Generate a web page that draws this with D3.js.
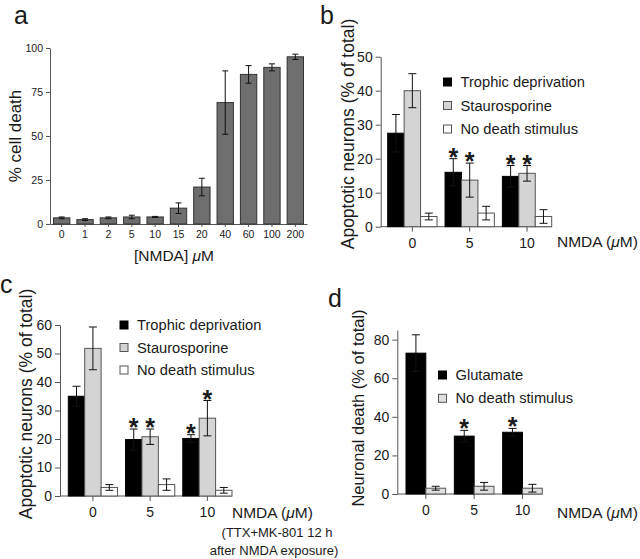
<!DOCTYPE html>
<html><head><meta charset="utf-8">
<script src="https://cdn.jsdelivr.net/npm/d3@7"></script>
<style>
html,body{margin:0;padding:0;background:#fff;}
svg{display:block;}
text{font-family:"Liberation Sans",Arial,Helvetica,sans-serif;fill:#1a1a1a;}
</style></head>
<body>
<svg id="chart" width="640" height="559"></svg>
<script>
// ---------- data ----------
const aCategories = ["0","1","2","5","10","15","20","40","60","100","200"];
const aValues = [3.5,2.5,3.5,4,4,9,21,69,85,89,95];
const aErrors = [0.5,0.5,0.5,1,0.3,3,5,18,5,2,1.5];
const aYTicks = [0,25,50,75,100];

const groups = ["0","5","10"];

const bTrophic = [27.5,16,14.8];
const bTrophicErr = [5.5,4,3.2];
const bStauro = [40,13.7,15.7];
const bStauroErr = [5,5,2.3];
const bNone = [3,4,3];
const bNoneErr = [1,2,2];
const bTrophicStar = [false,true,true];
const bStauroStar = [false,true,true];
const bYTicks = [0,10,20,30,40,50];

const cTrophic = [35,19.8,20.2];
const cTrophicErr = [3.5,3.7,1.3];
const cStauro = [51.8,20.8,27.3];
const cStauroErr = [7.5,2.7,6.2];
const cNone = [3,4,2];
const cNoneErr = [1,2,1];
const cTrophicStar = [false,true,true];
const cStauroStar = [false,true,true];
const cYTicks = [0,10,20,30,40,50,60];

const dGlutamate = [73,30,32];
const dGlutamateErr = [9.5,3,2];
const dNone = [3,4,3];
const dNoneErr = [1,2,2];
const dGlutamateStar = [false,true,true];
const dYTicks = [0,20,40,60,80];

const seriesNames3 = ["Trophic deprivation","Staurosporine","No death stimulus"];
const seriesNames2 = ["Glutamate","No death stimulus"];

// ---------- drawing ----------
const svg = d3.select("#chart");
const AX = "#555";

function styleAxis(g, fs){
  g.selectAll("line").attr("stroke",AX).attr("stroke-width",1);
  g.selectAll("path.domain").attr("stroke",AX).attr("stroke-width",1);
  g.selectAll("text").attr("font-size",fs).attr("fill","#1a1a1a")
    .style("font-family",'"Liberation Sans",Arial,sans-serif');
}

function errBar(g, cx, y, v, e, capW){
  g.append("line").attr("x1",cx).attr("x2",cx).attr("y1",y(v-e)).attr("y2",y(v+e))
    .attr("stroke","#111").attr("stroke-width",1);
  [v-e, v+e].forEach(t=>{
    g.append("line").attr("x1",cx-capW/2).attr("x2",cx+capW/2).attr("y1",y(t)).attr("y2",y(t))
      .attr("stroke","#111").attr("stroke-width",1);
  });
}

function star(g, cx, yTop){
  g.append("text").attr("x",cx).attr("y",yTop+7).attr("text-anchor","middle")
    .attr("font-size",25).attr("font-weight","bold").text("*");
}

// ----- panel a -----
(function(){
  const g = svg.append("g");
  const x = d3.scaleBand().domain(aCategories).range([50,307]).paddingInner(0.3).paddingOuter(0.15);
  const y = d3.scaleLinear().domain([0,100]).range([224,48]);
  const ya = g.append("g").attr("transform","translate(50,0)")
    .call(d3.axisLeft(y).tickValues(aYTicks).tickSize(4).tickSizeOuter(0).tickPadding(3));
  styleAxis(ya,10.5);
  const xa = g.append("g").attr("transform","translate(0,224)")
    .call(d3.axisBottom(x).tickSize(3).tickSizeOuter(0).tickPadding(4));
  styleAxis(xa,10.5);
  aCategories.forEach((c,i)=>{
    g.append("rect").attr("x",x(c)).attr("width",x.bandwidth())
      .attr("y",y(aValues[i])).attr("height",y(0)-y(aValues[i]))
      .attr("fill","#6e6e6e").attr("stroke","#333").attr("stroke-width",1);
    errBar(g, x(c)+x.bandwidth()/2, y, aValues[i], aErrors[i], 6);
  });
  g.append("text").attr("x",174).attr("y",261).attr("text-anchor","middle").attr("font-size",15.5)
    .html('[NMDA] <tspan font-style="italic">μ</tspan>M');
  g.append("text").attr("transform","translate(21,136) rotate(-90)").attr("text-anchor","middle")
    .attr("font-size",17).text("% cell death");
  g.append("text").attr("x",14).attr("y",24).attr("font-size",25).text("a");
})();

// ----- grouped panels -----
function groupedPanel(cfg){
  const g = svg.append("g");
  const x = d3.scaleBand().domain(groups).range(cfg.xr).paddingInner(cfg.pi).paddingOuter(0);
  const nS = cfg.series.length;
  const sub = d3.scaleBand().domain(d3.range(nS)).range([0,x.bandwidth()]).padding(0);
  const y = d3.scaleLinear().domain(cfg.yd).range(cfg.yr);
  const ya = g.append("g").attr("transform",`translate(${cfg.yx},0)`)
    .call(d3.axisLeft(y).tickValues(cfg.yTicks).tickSize(5).tickSizeOuter(0).tickPadding(3));
  styleAxis(ya,14);
  const xa = g.append("g").attr("transform",`translate(0,${cfg.yr[0]})`)
    .call(d3.axisBottom(x).tickSize(5).tickSizeOuter(0).tickPadding(6));
  xa.select("path.domain").remove();
  styleAxis(xa,14);
  g.append("line").attr("x1",cfg.yx).attr("x2",cfg.xr[1]).attr("y1",cfg.yr[0]).attr("y2",cfg.yr[0])
    .attr("stroke",AX).attr("stroke-width",1);
  cfg.series.forEach((s,si)=>{
    groups.forEach((gr,gi)=>{
      const bx = x(gr)+sub(si);
      g.append("rect").attr("x",bx).attr("width",sub.bandwidth())
        .attr("y",y(s.v[gi])).attr("height",y(0)-y(s.v[gi]))
        .attr("fill",s.fill).attr("stroke",s.stroke).attr("stroke-width",1);
    });
  });
  cfg.series.forEach((s,si)=>{
    groups.forEach((gr,gi)=>{
      const cx = x(gr)+sub(si)+sub.bandwidth()/2;
      errBar(g, cx, y, s.v[gi], s.e[gi], 8);
      if(s.star && s.star[gi]) star(g, cx, y(s.v[gi]+s.e[gi]));
    });
  });
  // legend
  cfg.series.forEach((s,si)=>{
    const cy = cfg.leg.y + si*cfg.leg.dy;
    g.append("rect").attr("x",cfg.leg.x).attr("y",cy-4).attr("width",8).attr("height",8)
      .attr("fill",s.fill).attr("stroke",s.legStroke||s.stroke).attr("stroke-width",1);
    g.append("text").attr("x",cfg.leg.x+17).attr("y",cy+5).attr("font-size",14.7).text(s.name);
  });
  g.append("text").attr("x",cfg.nmda[0]).attr("y",cfg.nmda[1]).attr("font-size",15.5)
    .html('NMDA (<tspan font-style="italic">μ</tspan>M)');
  g.append("text").attr("transform",`translate(${cfg.ylab[0]},${cfg.ylab[1]}) rotate(-90)`)
    .attr("text-anchor","middle").attr("font-size",cfg.ylabSize).text(cfg.ylabText);
  g.append("text").attr("x",cfg.letter[0]).attr("y",cfg.letter[1]).attr("font-size",25).text(cfg.letterText);
  return g;
}

groupedPanel({
  xr:[387.7,551.7], pi:0.14, yd:[0,50], yr:[226.7,56.7], yx:380.7, yTicks:bYTicks,
  series:[
    {name:seriesNames3[0], v:bTrophic, e:bTrophicErr, fill:"#000", stroke:"#000", star:bTrophicStar},
    {name:seriesNames3[1], v:bStauro, e:bStauroErr, fill:"#d4d4d4", stroke:"#555", star:bStauroStar},
    {name:seriesNames3[2], v:bNone, e:bNoneErr, fill:"#fff", stroke:"#555"}
  ],
  leg:{x:443.5, y:82, dy:23.5},
  nmda:[557,247], ylab:[354,134], ylabSize:17.5, ylabText:"Apoptotic neurons (% of total)",
  letter:[320,24], letterText:"b"
});

const gc = groupedPanel({
  xr:[68.3,232], pi:0.14, yd:[0,60], yr:[496,325], yx:60, yTicks:cYTicks,
  series:[
    {name:seriesNames3[0], v:cTrophic, e:cTrophicErr, fill:"#000", stroke:"#000", star:cTrophicStar},
    {name:seriesNames3[1], v:cStauro, e:cStauroErr, fill:"#d4d4d4", stroke:"#555", star:cStauroStar},
    {name:seriesNames3[2], v:cNone, e:cNoneErr, fill:"#fff", stroke:"#555"}
  ],
  leg:{x:120, y:325, dy:22.5},
  nmda:[232,518], ylab:[32,404], ylabSize:17.5, ylabText:"Apoptotic neurons (% of total)",
  letter:[0,293], letterText:"c"
});
gc.append("text").attr("x",277).attr("y",537).attr("text-anchor","middle").attr("font-size",13)
  .text("(TTX+MK-801 12 h");
gc.append("text").attr("x",274).attr("y",555).attr("text-anchor","middle").attr("font-size",13)
  .text("after NMDA exposure)");

groupedPanel({
  xr:[406,542.3], pi:0.18, yd:[0,85], yr:[494,330], yx:397.3, yTicks:dYTicks,
  series:[
    {name:seriesNames2[0], v:dGlutamate, e:dGlutamateErr, fill:"#000", stroke:"#000", star:dGlutamateStar},
    {name:seriesNames2[1], v:dNone, e:dNoneErr, fill:"#dedede", stroke:"#555"}
  ],
  leg:{x:438.5, y:375, dy:23.3},
  nmda:[557,518], ylab:[364,408], ylabSize:16.5, ylabText:"Neuronal death (% of total)",
  letter:[328,307], letterText:"d"
});
</script>
</body></html>
